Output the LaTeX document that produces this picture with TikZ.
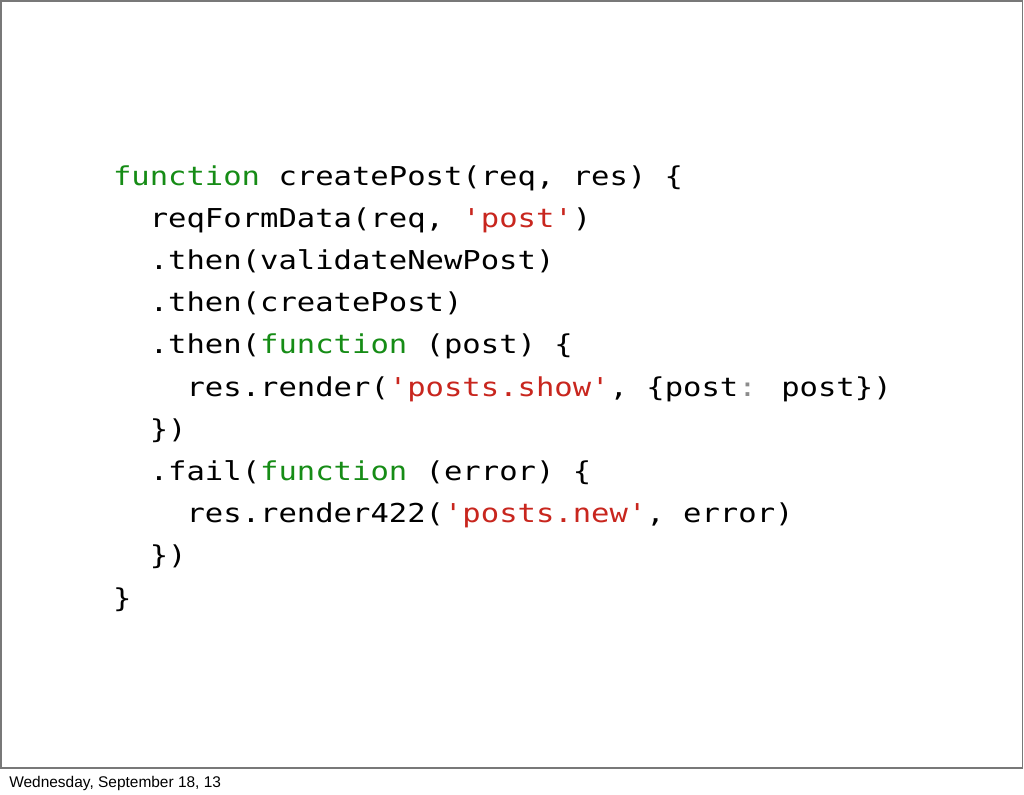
\documentclass[tikz,border=0pt]{standalone}
\usepackage{fontspec}
\setmainfont{Liberation Sans}
\newfontfamily\codefont[FakeStretch=1.175]{DejaVu Sans Mono}
\definecolor{kwgreen}{RGB}{22,140,22}
\definecolor{strred}{RGB}{200,38,30}
\definecolor{colgray}{RGB}{140,140,140}
\definecolor{framegray}{RGB}{120,120,120}
\begin{document}
\begin{tikzpicture}[x=0.75pt,y=-0.75pt,
  codeline/.style={anchor=base west,inner sep=0pt,outer sep=0pt,font=\codefont\fontsize{19.5pt}{24pt}\selectfont},
  kw/.style={},
]
\useasboundingbox (0,0) rectangle (1024,794);
\draw[framegray,line width=1.2pt] (0.8,0.8) rectangle (1022.5,768);
\def\cw{18.4}
\def\lh{42.2}
\node[codeline] (l1) at (113,185) {\textcolor{kwgreen}{function} createPost(req, res) \{};
\node[codeline] (l2) at (113+2*\cw,185+\lh) {reqFormData(req, \textcolor{strred}{'post'})};
\node[codeline] (l3) at (113+2*\cw,185+2*\lh) {.then(validateNewPost)};
\node[codeline] (l4) at (113+2*\cw,185+3*\lh) {.then(createPost)};
\node[codeline] (l5) at (113+2*\cw,185+4*\lh) {.then(\textcolor{kwgreen}{function} (post) \{};
\node[codeline] (l6) at (113+4*\cw,185+5*\lh) {res.render(\textcolor{strred}{'posts.show'}, \{post\textcolor{colgray}{:} post\})};
\node[codeline] (l7) at (113+2*\cw,185+6*\lh) {\})};
\node[codeline] (l8) at (113+2*\cw,185+7*\lh) {.fail(\textcolor{kwgreen}{function} (error) \{};
\node[codeline] (l9) at (113+4*\cw,185+8*\lh) {res.render422(\textcolor{strred}{'posts.new'}, error)};
\node[codeline] (l10) at (113+2*\cw,185+9*\lh) {\})};
\node[codeline] (l11) at (113,185+10*\lh) {\}};
\node[anchor=base west,inner sep=0pt,font=\fontsize{11.6pt}{14pt}\selectfont] (foot) at (9,787) {Wednesday, September 18, 13};
\end{tikzpicture}
\end{document}
